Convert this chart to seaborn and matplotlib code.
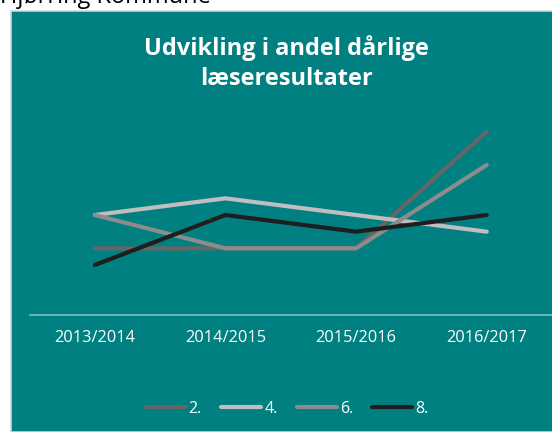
import pandas as pd
import seaborn as sns
import matplotlib.pyplot as plt
from matplotlib.patches import Rectangle

# data
years = ["2013/2014", "2014/2015", "2015/2016", "2016/2017"]
grade_2 = [4, 4, 4, 11]
grade_4 = [6, 7, 6, 5]
grade_6 = [6, 4, 4, 9]
grade_8 = [3, 6, 5, 6]
grades = ["2.", "4.", "6.", "8."]
colors = ["#666666", "#bfbfbf", "#8c8c8c", "#1e1e1e"]

TEAL = "#008080"


def get_df():
    rows = []
    for grade, vals in zip(grades, [grade_2, grade_4, grade_6, grade_8]):
        for year, v in zip(years, vals):
            rows.append({"year": year, "value": v, "grade": grade})
    return pd.DataFrame(rows)


def plot_chart(df):
    sns.set_style("white")
    plt.rcParams["font.family"] = ["Open Sans", "DejaVu Sans"]
    W, H = 552, 432
    fig = plt.figure(figsize=(W / 100, H / 100), dpi=100, facecolor="white")

    # teal panel with light border (kept behind the axes)
    fig.patches.append(Rectangle((10.5 / W, 0), 1, 1 - 10.5 / H, transform=fig.transFigure,
                                 facecolor=TEAL, edgecolor="#d4d4d4", linewidth=1.2, zorder=-10))
    # cut-off heading above the chart
    fig.text(0.0, 1 - 3 / H, "Hjørring Kommune", fontsize=17, color="black", va="baseline", ha="left")

    ax = fig.add_axes([29.5 / W, 1 - 315 / H, 1 - 29.5 / W, 200 / H])
    ax.set_facecolor("none")
    ax.set_zorder(1)
    sns.lineplot(data=df, x="year", y="value", hue="grade", palette=colors,
                 linewidth=3, ax=ax, legend=False, sort=False)
    ax.set_xlim(-0.5, 3.5)
    ax.set_ylim(0, 12)
    ax.set_xlabel("")
    ax.set_ylabel("")
    ax.set_yticks([])
    for s in ["top", "left", "right"]:
        ax.spines[s].set_visible(False)
    ax.spines["bottom"].set_color("#7fbfbf")
    ax.spines["bottom"].set_linewidth(1.2)
    ax.tick_params(axis="x", length=0, pad=11, labelsize=11.8, labelcolor="white")

    fig.text(286 / W, 1 - 63 / H, "Udvikling i andel dårlige\nlæseresultater", ha="center", va="center",
             fontsize=17, fontweight="bold", color="white", linespacing=1.35)

    handles = [plt.Line2D([], [], color=c, linewidth=3) for c in colors]
    leg = fig.legend(handles, grades, loc="center", bbox_to_anchor=(287 / W, 1 - 409 / H), ncol=4,
                     frameon=False, handlelength=2.5, handletextpad=0.2, columnspacing=1.2, fontsize=11.5)
    for t in leg.get_texts():
        t.set_color("white")

    plt.savefig("out.png", dpi=100, facecolor="white")


def main():
    df = get_df()
    plot_chart(df)


if __name__ == "__main__":
    main()
